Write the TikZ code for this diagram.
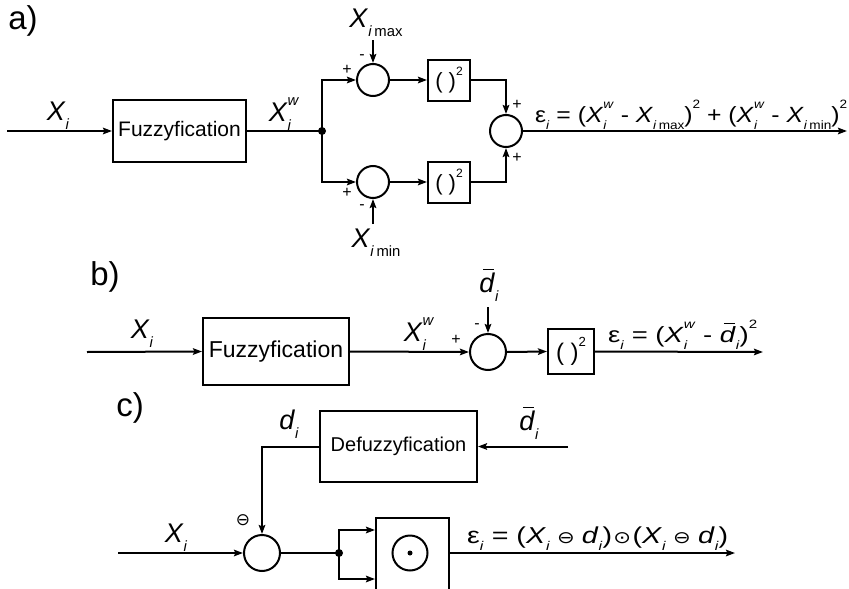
\documentclass[tikz,border=0pt]{standalone}
\usepackage{fontspec}
\usepackage{graphicx}
\setmainfont{Liberation Sans}
\newfontfamily\symf{DejaVu Sans}
\usetikzlibrary{arrows.meta}

% small raised / lowered indices built from scaled text
\newcommand\subsc[1]{\raisebox{-0.32em}{\scalebox{0.55}{#1}}}
\newcommand\supsc[1]{\raisebox{0.6em}{\scalebox{0.55}{#1}}}
\newcommand\subsup[2]{\makebox[0pt][l]{\subsc{#1}}\supsc{#2}}
\newcommand\Xvar{\textit{X}\subsc{\textit{i}}}
\newcommand\Xw{\textit{X}\subsup{\textit{i}}{\textit{w}}}
\newcommand\dbar{\leavevmode\rlap{\hspace{0.14em}\rule[0.82em]{0.42em}{0.06em}}\textit{d}}
\newcommand\sqr{(\ )\supsc{2}}
\newcommand\osym[1]{{\symf\fontsize{17}{20}\selectfont #1}}

\tikzset{
  sig/.style={line width=2pt},
  arr/.style={sig,-{Stealth[length=9pt,width=6.5pt,inset=1.5pt]}},
  sumc/.style={circle,draw,line width=2pt,minimum size=32pt,inner sep=0pt},
  blk/.style={draw,line width=2pt,inner sep=0pt},
  sqbox/.style={blk,minimum width=42pt,minimum height=41pt,font=\fontsize{22}{24}\selectfont},
  lbl/.style={inner sep=0pt,font=\fontsize{27}{30}\selectfont},
  eq/.style={inner sep=0pt,anchor=base west,font=\fontsize{22}{24}\selectfont},
  sgn/.style={inner sep=0pt,font=\fontsize{16}{18}\selectfont},
  part/.style={inner sep=0pt,font=\fontsize{33}{36}\selectfont},
  dot/.style={circle,fill,inner sep=0pt,minimum size=8pt}
}

\begin{document}
\begin{tikzpicture}[x=1pt,y=-1pt]
\useasboundingbox (0,0) rectangle (849,589);
\clip (0,0) rectangle (849,589);

% ---------------- a) ----------------
\node[part] (pa) at (23,21) {a)};
\coordinate (ain) at (7,131);
\node[blk,minimum width=133pt,minimum height=62pt,font=\fontsize{21}{24}\selectfont] (fza) at (179.5,131) {Fuzzyfication};
\node[lbl] (xa) at (58,116) {\Xvar};
\node[lbl] (xwa) at (284,114) {\Xw};
\node[dot] (ja) at (322,131) {};
\node[sumc] (s1) at (373,80) {};
\node[sumc] (s2) at (373,182) {};
\node[sqbox] (q1) at (449,80) {\sqr};
\node[sqbox] (q2) at (449,182) {\sqr};
\node[sumc] (s3) at (506,131) {};
\coordinate (aout) at (847,131);
\node[lbl] (xmax) at (376,23) {\textit{X}\subsc{\textit{i}\,max}};
\node[lbl] (xmin) at (376,243) {\textit{X}\subsc{\textit{i}\,min}};
\coordinate (xmaxe) at (373,40);
\coordinate (xmine) at (373,224);
\node[sgn] (p1) at (347,70) {+};
\node[sgn] (m1) at (362,57) {-};
\node[sgn] (p2) at (347,193) {+};
\node[sgn] (m2) at (362,207) {-};
\node[sgn] (p3) at (517,105) {+};
\node[sgn] (p4) at (517,158) {+};
\node[eq] (ea) at (535,122) {\resizebox{312pt}{\height}{ε\subsc{\textit{i}} = (\Xw\ - \textit{X}\subsc{\textit{i}\,max})\supsc{2} + (\Xw\ - \textit{X}\subsc{\textit{i}\,min})\supsc{2}}};

\draw[arr] (ain) -- (fza.west);
\draw[sig] (fza.east) -- (ja.center);
\draw[arr] (ja.center) |- (s1.west);
\draw[arr] (ja.center) |- (s2.west);
\draw[arr] (xmaxe) -- (s1.north);
\draw[arr] (xmine) -- (s2.south);
\draw[arr] (s1.east) -- (q1.west);
\draw[arr] (s2.east) -- (q2.west);
\draw[arr] (q1.east) -| (s3.north);
\draw[arr] (q2.east) -| (s3.south);
\draw[arr] (s3.east) -- (aout);

% ---------------- b) ----------------
\node[part] (pb) at (105,277) {b)};
\coordinate (bin) at (87,352);
\node[blk,minimum width=146pt,minimum height=67pt,font=\fontsize{23}{26}\selectfont] (fzb) at (276,351.5) {Fuzzyfication};
\node[lbl] (xb) at (142,334) {\Xvar};
\node[lbl] (xwb) at (419,334) {\Xw};
\node[sumc,minimum size=36pt] (sb) at (488,352) {};
\node[lbl] (dbb) at (489,285) {\dbar\subsc{\textit{i}}};
\coordinate (dbe) at (488,307);
\node[sgn] (pb1) at (456,340) {+};
\node[sgn] (mb1) at (477,326) {-};
\node[sqbox,minimum width=46pt,minimum height=45pt,font=\fontsize{24}{26}\selectfont] (qb) at (571,351.5) {\sqr};
\coordinate (bout) at (763,352);
\node[eq] (eb) at (608,342) {\resizebox{149pt}{\height}{ε\subsc{\textit{i}} = (\Xw\ - \dbar\subsc{\textit{i}})\supsc{2}}};

\draw[arr] (bin) -- (fzb.west);
\draw[arr] (fzb.east) -- (sb.west);
\draw[arr] (dbe) -- (sb.north);
\draw[arr] (sb.east) -- (qb.west);
\draw[arr] (qb.east) -- (bout);

% ---------------- c) ----------------
\node[part] (pc) at (130,408) {c)};
\node[blk,minimum width=157pt,minimum height=71pt,font=\fontsize{20}{23}\selectfont] (dfz) at (398.5,446.5) {Defuzzyfication};
\coordinate (dbin) at (568,446.5);
\node[lbl] (dbc) at (529,423) {\dbar\subsc{\textit{i}}};
\node[lbl] (dc) at (289,424) {\textit{d}\subsc{\textit{i}}};
\node[sumc,minimum size=36pt] (sc) at (262,553) {};
\node[inner sep=0pt,font=\symf\fontsize{17}{18}\selectfont] (om) at (243,520) {⊖};
\coordinate (cin) at (118,553);
\node[lbl] (xc) at (176,538) {\Xvar};
\node[dot] (jc) at (339,553) {};
\node[blk,minimum width=73pt,minimum height=83pt,anchor=north west] (ob) at (375,517) {};
\node[circle,draw,line width=2pt,minimum size=35pt,inner sep=0pt] (odot) at (410,553) {};
\node[dot,minimum size=5pt] (odd) at (odot.center) {};
\coordinate (cout) at (735,553);
\node[eq,font=\fontsize{23}{26}\selectfont] (ec) at (467,543) {\resizebox{261pt}{\height}{ε\subsc{\textit{i}} = (\Xvar\hspace{0.25em}\osym{⊖}\hspace{0.25em}\textit{d}\subsc{\textit{i}})\hspace{0.05em}\osym{⊙}\hspace{0.05em}(\Xvar\hspace{0.25em}\osym{⊖}\hspace{0.25em}\textit{d}\subsc{\textit{i}})}};

\draw[arr] (dbin) -- (dfz.east);
\draw[arr] (dfz.west) -| (sc.north);
\draw[arr] (cin) -- (sc.west);
\draw[sig] (sc.east) -- (jc.center);
\draw[arr] (jc.center) |- ([yshift=29.5pt]ob.west);
\draw[arr] (jc.center) |- ([yshift=-19.5pt]ob.west);
\draw[arr] (odot -| ob.east) -- (cout);
\end{tikzpicture}
\end{document}
